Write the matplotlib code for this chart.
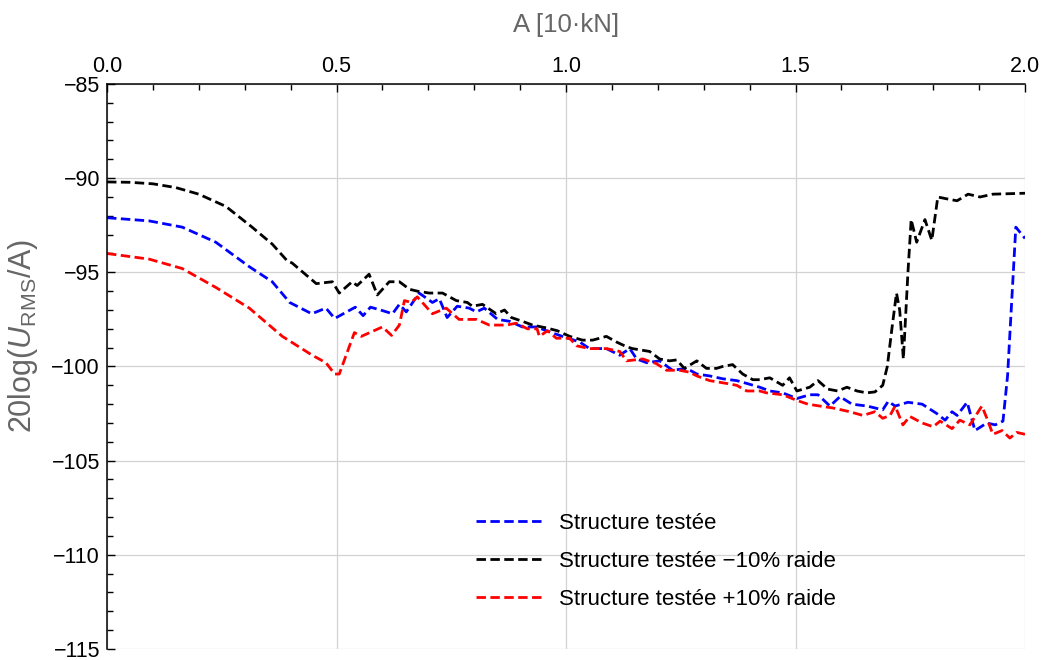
import matplotlib
matplotlib.use("Agg")
import matplotlib.pyplot as plt
from matplotlib.ticker import MultipleLocator, FormatStrFormatter

plt.rcParams["font.family"] = ["Liberation Sans", "DejaVu Sans"]
plt.rcParams["mathtext.fontset"] = "custom"
plt.rcParams["mathtext.rm"] = "Liberation Sans"
plt.rcParams["mathtext.it"] = "Liberation Sans:italic"

# --- data -------------------------------------------------------------
x_nominal = [0.0, 0.092, 0.164, 0.237, 0.31, 0.36, 0.398, 0.446, 0.477, 0.496,
             0.541, 0.558, 0.574, 0.596, 0.622, 0.637, 0.652, 0.68, 0.709, 0.724,
             0.741, 0.763, 0.789, 0.805, 0.822, 0.851, 0.877, 0.905, 0.936, 0.957,
             0.992, 1.03, 1.051, 1.088, 1.117, 1.139, 1.154, 1.176, 1.204, 1.232,
             1.263, 1.285, 1.313, 1.341, 1.372, 1.394, 1.422, 1.444, 1.472, 1.503,
             1.531, 1.549, 1.575, 1.597, 1.623, 1.656, 1.69, 1.702, 1.717, 1.745,
             1.776, 1.808, 1.826, 1.841, 1.852, 1.874, 1.891, 1.917, 1.935, 1.952,
             1.962, 1.98, 2.0]
y_nominal = [-92.1, -92.27, -92.6, -93.4, -94.7, -95.5, -96.6, -97.2, -96.9, -97.45,
             -96.85, -97.3, -96.85, -97.0, -97.2, -96.7, -97.1, -96.1, -96.6, -96.4,
             -97.4, -96.8, -96.9, -97.1, -96.9, -97.5, -97.6, -97.9, -97.9, -98.1,
             -98.4, -98.7, -99.05, -99.05, -99.4, -99.05, -99.6, -99.8, -99.7, -100.2,
             -100.1, -100.4, -100.5, -100.65, -100.75, -100.9, -101.1, -101.3, -101.4, -101.7,
             -101.5, -101.5, -102.1, -101.6, -102.0, -102.1, -102.3, -101.85, -102.1, -101.9,
             -102.0, -102.5, -102.85, -102.4, -102.6, -101.9, -103.4, -103.0, -103.1, -102.9,
             -100.5, -92.6, -93.2]

x_soft = [0.0, 0.05, 0.1, 0.15, 0.2, 0.259, 0.316, 0.36, 0.393, 0.403,
          0.456, 0.491, 0.506, 0.534, 0.545, 0.571, 0.589, 0.615, 0.637, 0.659,
          0.676, 0.702, 0.731, 0.761, 0.785, 0.796, 0.818, 0.848, 0.866, 0.881,
          0.905, 0.927, 0.957, 0.981, 1.008, 1.036, 1.058, 1.088, 1.11, 1.132,
          1.145, 1.182, 1.204, 1.226, 1.241, 1.258, 1.285, 1.306, 1.328, 1.341,
          1.363, 1.385, 1.407, 1.422, 1.444, 1.472, 1.487, 1.503, 1.531, 1.549,
          1.57, 1.592, 1.612, 1.634, 1.655, 1.673, 1.69, 1.70, 1.71, 1.72,
          1.727, 1.735, 1.745, 1.752, 1.764, 1.782, 1.797, 1.81, 1.83, 1.852,
          1.876, 1.902, 1.93, 2.0]
y_soft = [-90.2, -90.22, -90.3, -90.5, -90.85, -91.5, -92.6, -93.5, -94.4, -94.5,
          -95.6, -95.5, -96.1, -95.5, -95.7, -95.1, -96.2, -95.5, -95.5, -95.9,
          -96.0, -96.1, -96.1, -96.5, -96.6, -96.8, -96.7, -97.2, -97.0, -97.4,
          -97.6, -97.8, -97.95, -98.1, -98.4, -98.6, -98.6, -98.4, -98.7, -98.95,
          -99.05, -99.2, -99.6, -99.7, -99.65, -100.1, -99.7, -100.1, -100.1, -100.0,
          -99.9, -100.4, -100.7, -100.7, -100.6, -101.0, -100.6, -101.3, -101.1, -100.75,
          -101.2, -101.3, -101.1, -101.3, -101.4, -101.35, -101.0, -100.0, -98.0, -96.1,
          -97.0, -99.6, -95.0, -92.2, -93.4, -92.2, -93.3, -91.0, -91.1, -91.2,
          -90.85, -91.0, -90.85, -90.8]

x_stiff = [0.0, 0.092, 0.164, 0.237, 0.31, 0.382, 0.447, 0.477, 0.496, 0.506,
           0.539, 0.554, 0.6, 0.62, 0.637, 0.648, 0.663, 0.676, 0.709, 0.739,
           0.767, 0.805, 0.833, 0.87, 0.892, 0.916, 0.937, 0.942, 0.96, 0.979,
           1.008, 1.023, 1.051, 1.088, 1.117, 1.132, 1.167, 1.197, 1.219, 1.247,
           1.269, 1.285, 1.313, 1.35, 1.372, 1.394, 1.422, 1.437, 1.472, 1.503,
           1.527, 1.553, 1.581, 1.618, 1.647, 1.673, 1.69, 1.706, 1.717, 1.734,
           1.749, 1.776, 1.8, 1.815, 1.841, 1.858, 1.88, 1.906, 1.917, 1.93,
           1.95, 1.967, 1.982, 2.0]
y_stiff = [-94.0, -94.3, -94.8, -95.8, -96.9, -98.4, -99.4, -99.8, -100.4, -100.4,
           -98.2, -98.4, -97.9, -98.35, -97.8, -96.5, -96.6, -96.3, -97.2, -96.9,
           -97.5, -97.5, -97.8, -97.8, -97.7, -98.0, -98.0, -98.4, -98.1, -98.5,
           -98.5, -98.9, -99.05, -99.05, -99.2, -99.7, -99.6, -99.85, -100.2, -100.2,
           -100.3, -100.5, -100.75, -100.9, -101.0, -101.3, -101.3, -101.4, -101.5, -101.8,
           -102.0, -102.1, -102.2, -102.4, -102.6, -102.4, -102.75, -102.6, -102.1, -103.1,
           -102.65, -103.0, -103.2, -102.9, -103.3, -102.85, -103.1, -102.1, -102.75, -103.6,
           -103.4, -103.8, -103.5, -103.6]

series_labels = ["Structure testée",
                 "Structure testée \u221210% raide",
                 "Structure testée +10% raide"]
x_label = "A [10\u00b7kN]"
y_label = r"20log($U_{\mathrm{RMS}}$/A)"

# --- figure -----------------------------------------------------------
W, H = 1043, 660
fig = plt.figure(figsize=(W / 100, H / 100), dpi=100)
left, right, top, bottom = 107, 1025, 84, 649
ax = fig.add_axes([left / W, 1 - bottom / H, (right - left) / W, (bottom - top) / H])

lw = 2.0
dash = (3.4, 1.6)
ax.plot(x_nominal, y_nominal, color="#0000ff", lw=lw, dashes=dash, label=series_labels[0])
ax.plot(x_soft, y_soft, color="#000000", lw=lw, dashes=dash, label=series_labels[1])
ax.plot(x_stiff, y_stiff, color="#ff0000", lw=lw, dashes=dash, label=series_labels[2])

ax.set_xlim(0, 2)
ax.set_ylim(-115, -85)
ax.xaxis.tick_top()
ax.xaxis.set_label_position("top")
ax.spines["bottom"].set_visible(False)
ax.spines["right"].set_visible(False)
for s in ("top", "left"):
    ax.spines[s].set_linewidth(1.1)

ax.xaxis.set_major_locator(MultipleLocator(0.5))
ax.xaxis.set_minor_locator(MultipleLocator(0.1))
ax.xaxis.set_major_formatter(FormatStrFormatter("%.1f"))
ax.yaxis.set_major_locator(MultipleLocator(5))
ax.yaxis.set_minor_locator(MultipleLocator(1))

ax.tick_params(which="both", direction="in", top=True, bottom=False,
               left=True, right=False, labelsize=15.5, width=1.0, pad=5)
ax.tick_params(which="major", length=6)
ax.tick_params(which="minor", length=4)

ax.grid(True, which="major", color="#d2d2d2", lw=0.9)
ax.set_axisbelow(True)

ax.set_xlabel(x_label, fontsize=18.5, color="#666666", labelpad=17)
ax.set_ylabel(y_label, fontsize=22, color="#666666", va="center")
ax.yaxis.set_label_coords(-0.092, 0.555)

leg = ax.legend(loc="center", bbox_to_anchor=(0.598, 0.155), frameon=False,
                fontsize=16, handlelength=3.0, handletextpad=0.75, labelspacing=0.75)

fig.savefig("out.png", dpi=100)
